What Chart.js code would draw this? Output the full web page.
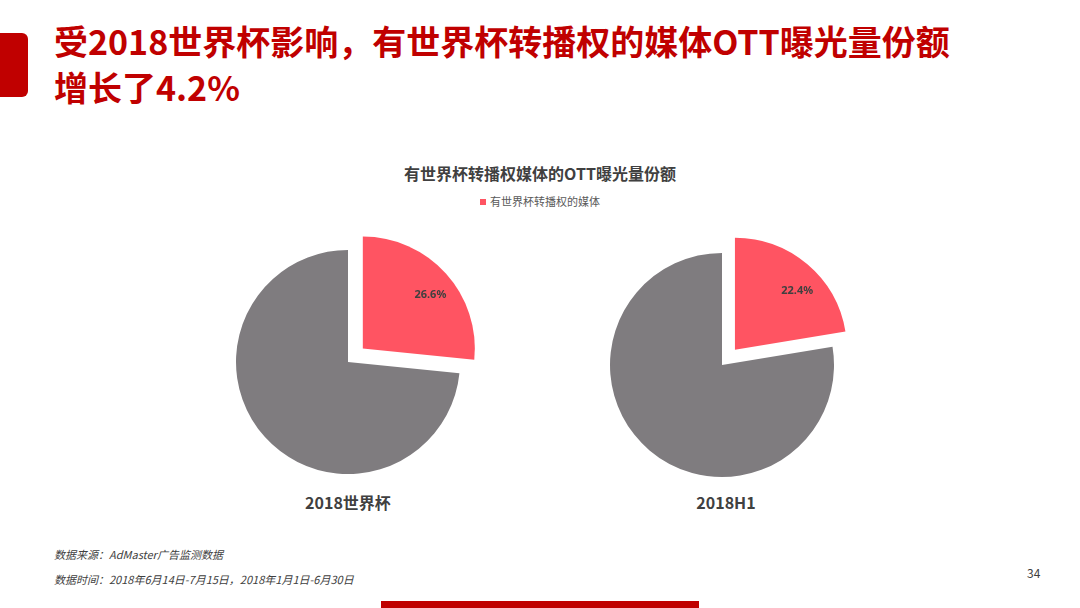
<!DOCTYPE html>
<html><head><meta charset="utf-8">
<script src="https://cdn.jsdelivr.net/npm/chart.js@4"></script>
<style>
body{margin:0;width:1080px;height:608px;position:relative;background:#fff;font-family:"Noto Sans CJK SC","Noto Sans",sans-serif;overflow:hidden}
.abs{position:absolute}
#bar{left:0;top:33px;width:28px;height:64px;background:#c00000;border-radius:0 6px 6px 0}
#title{left:54px;top:18px;font-size:34px;font-weight:bold;color:#c00000;line-height:46px;white-space:nowrap}
#ctitle{left:0;width:1080px;top:161px;text-align:center;font-size:16px;font-weight:bold;color:#404040}
#legend{left:0;width:1080px;top:193px;text-align:center;font-size:11px;color:#595959}
#legend span{display:inline-block;width:6px;height:6px;background:#ff5462;margin-right:4px;vertical-align:1px}
.cat{font-size:16px;font-weight:bold;color:#404040;width:200px;text-align:center;top:490px}
.note{left:54px;font-size:11px;font-style:italic;color:#404040}
#page{left:1027px;top:564px;font-size:12px;color:#404040}
#foot{left:381px;top:601px;width:318px;height:7px;background:#c00000}
canvas{position:absolute}
</style></head><body>
<div id="bar" class="abs"></div>
<div id="title" class="abs">受2018世界杯影响，有世界杯转播权的媒体OTT曝光量份额<br>增长了4.2%</div>
<div id="ctitle" class="abs">有世界杯转播权媒体的OTT曝光量份额</div>
<div id="legend" class="abs"></div>
<div class="abs cat" style="left:248px">2018世界杯</div>
<div class="abs cat" style="left:626px">2018H1</div>
<div class="abs note" style="top:546px">数据来源：AdMaster广告监测数据</div>
<div class="abs note" style="top:571px">数据时间：2018年6月14日-7月15日，2018年1月1日-6月30日</div>
<div id="page" class="abs">34</div>
<div id="foot" class="abs"></div>
<div class="abs" style="left:210px;top:224px;width:276px;height:276px"><canvas id="c1"></canvas></div>
<div class="abs" style="left:584px;top:227px;width:276px;height:276px"><canvas id="c2"></canvas></div>
<script>
const seriesName = "有世界杯转播权的媒体"
const groups = ["2018世界杯", "2018H1"]
const shareWorldCup = [26.6, 73.4]
const shareH1 = [22.4, 77.6]
const colors = ["#ff5462", "#7f7c7f"]
const explode = 20

document.getElementById("legend").innerHTML = "<span></span>" + seriesName

// pull the first slice out along its bisector
const explodePlugin = {
id: "explode",
afterUpdate(chart){
const arc = chart.getDatasetMeta(0).data[0]
const mid = (arc.startAngle + arc.endAngle) / 2
arc.x += Math.cos(mid) * explode
arc.y += Math.sin(mid) * explode
}
}

const labelPlugin = {
id: "pctLabel",
afterDatasetsDraw(chart){
const ctx = chart.ctx
const arc = chart.getDatasetMeta(0).data[0]
const v = chart.data.datasets[0].data[0]
const p = arc.tooltipPosition()
ctx.save()
ctx.font = "bold 11px 'Noto Sans', sans-serif"
ctx.fillStyle = "#404040"
ctx.textAlign = "center"
ctx.textBaseline = "middle"
ctx.fillText(v.toFixed(1) + "%", p.x + 26, p.y - 16)
ctx.restore()
}
}

function makePie(id, values){
new Chart(document.getElementById(id), {
type: "pie",
data: {
labels: [seriesName, "其他"],
datasets: [{
data: values,
backgroundColor: colors,
borderWidth: 0
}]
},
options: {
responsive: true,
maintainAspectRatio: false,
animation: false,
layout: {padding: 26},
plugins: {legend: {display: false}, tooltip: {enabled: false}}
},
plugins: [explodePlugin, labelPlugin]
})
}

makePie("c1", shareWorldCup)
makePie("c2", shareH1)
</script>
</body></html>
